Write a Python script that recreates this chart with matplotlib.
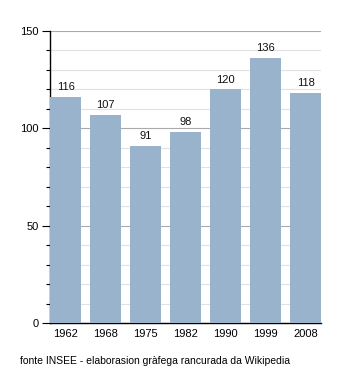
import matplotlib.pyplot as plt
from matplotlib.ticker import MultipleLocator

plt.rcParams['font.family'] = ['Liberation Sans', 'DejaVu Sans']

years = ['1962', '1968', '1975', '1982', '1990', '1999', '2008']
population = [116, 107, 91, 98, 120, 136, 118]
source_note = 'fonte INSEE - elaborasion gràfega rancurada da Wikipedia'

fig = plt.figure(figsize=(3.5, 3.73), dpi=100)
ax = fig.add_axes([0.143, 0.134, 0.774, 0.783])

bar_w = 0.77
x = range(len(years))
ax.bar(x, population, width=bar_w, color='#9ab3cc', zorder=3)
for xi, v in zip(x, population):
    ax.text(xi, v + 2.5, str(v), ha='center', va='bottom', fontsize=8, color='#111111')

# bars sit flush against both ends of the plot area
ax.set_xlim(-bar_w / 2 - 0.01, len(years) - 1 + bar_w / 2)
ax.set_ylim(0, 150)
ax.set_xticks(list(x))
ax.set_xticklabels(years)
ax.yaxis.set_major_locator(MultipleLocator(50))
ax.yaxis.set_minor_locator(MultipleLocator(10))

# light grid every 10, darker every 50
ax.grid(axis='y', which='minor', color='#e2e2e2', linewidth=0.8, zorder=0)
ax.grid(axis='y', which='major', color='#aaaaaa', linewidth=0.8, zorder=1)

for side in ('top', 'right'):
    ax.spines[side].set_visible(False)
ax.spines['left'].set_linewidth(1)
ax.spines['bottom'].set_linewidth(1)

ax.tick_params(axis='x', length=0, labelsize=8, pad=4)
ax.tick_params(axis='y', which='major', length=6, width=0.8, labelsize=8, pad=2)
ax.tick_params(axis='y', which='minor', length=3, width=0.8)

fig.text(20 / 350, 1 - 361 / 373, source_note, fontsize=7.5, va='center', ha='left')

fig.savefig('out.png', dpi=100)
